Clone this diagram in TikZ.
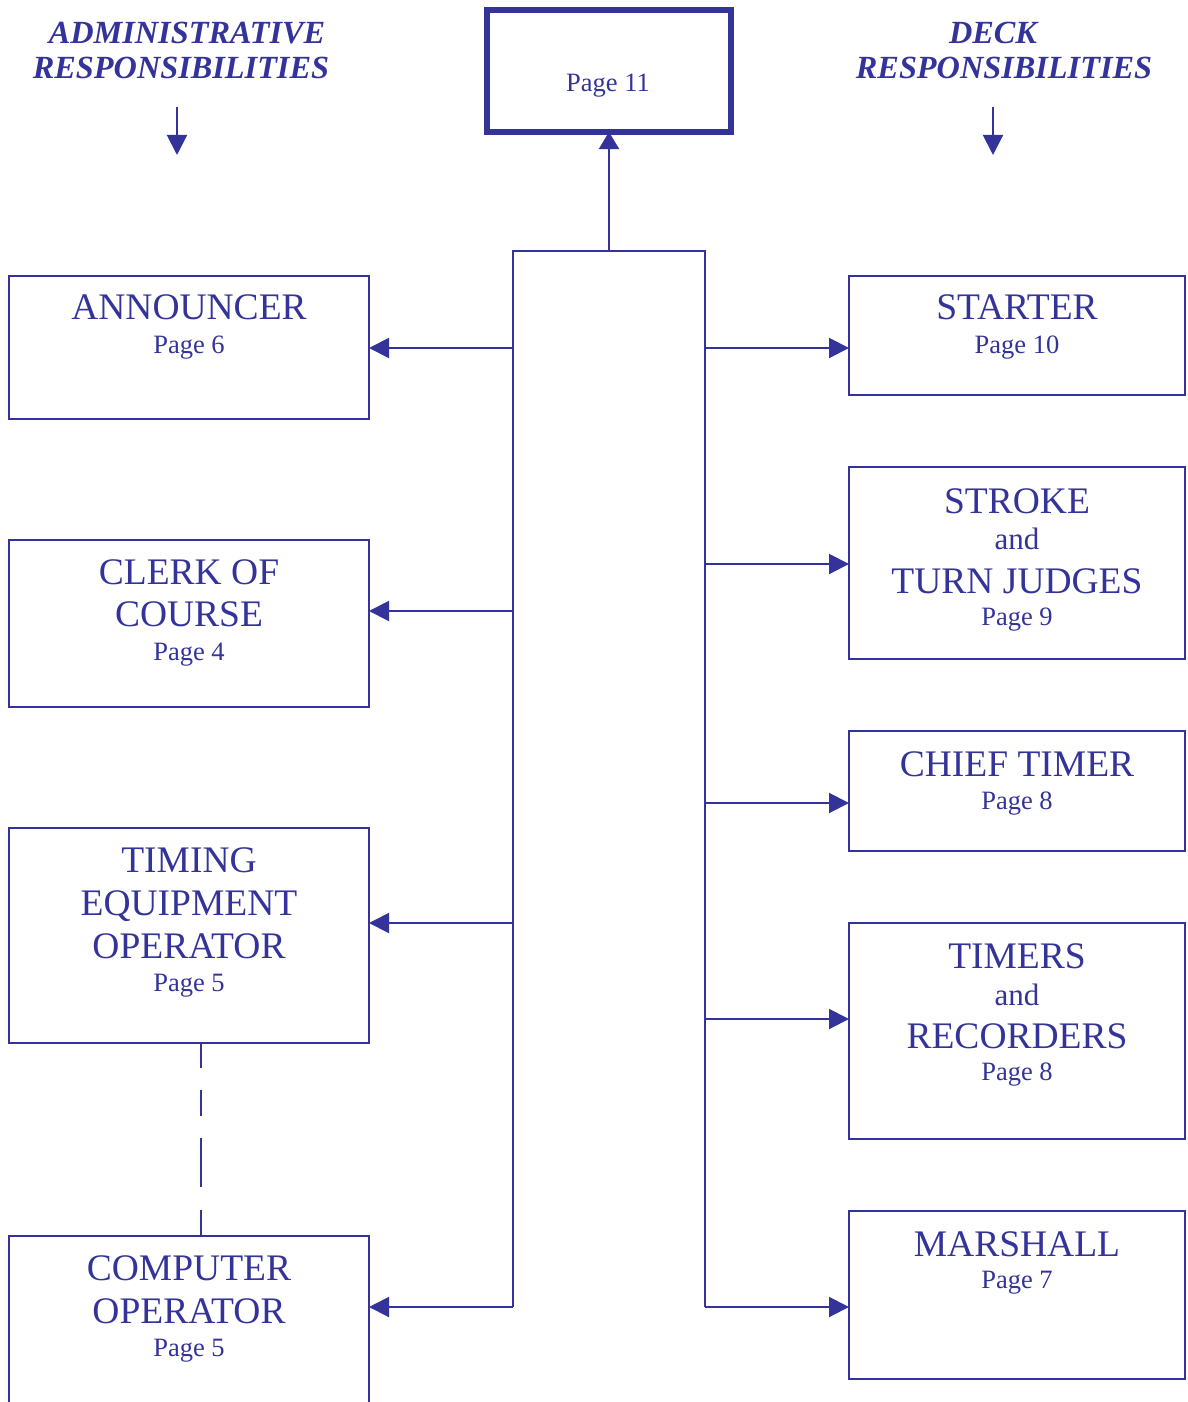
\documentclass[tikz,border=0pt]{standalone}
\usepackage{fontspec}
\setmainfont{Liberation Serif}
\usetikzlibrary{arrows.meta}
\definecolor{ink}{RGB}{51,51,153}
\tikzset{
  x=1pt,y=-1pt,
  box/.style={draw=ink,line width=2pt,rectangle,inner sep=0pt,outer sep=0pt},
  topbox/.style={draw=ink,line width=5.5pt,rectangle,inner sep=0pt,outer sep=0pt},
  big/.style={text=ink,anchor=base,inner sep=0pt,font=\fontsize{37.5}{40}\selectfont},
  mid/.style={text=ink,anchor=base,inner sep=0pt,font=\fontsize{31}{34}\selectfont},
  small/.style={text=ink,anchor=base,inner sep=0pt,font=\fontsize{26.5}{28}\selectfont},
  head/.style={text=ink,anchor=base,inner sep=0pt,font=\fontsize{32.3}{34}\selectfont\bfseries\itshape},
  conn/.style={draw=ink,line width=2pt},
  arr/.style={conn,-{Triangle[length=20pt,width=20pt]}},
}
\begin{document}
\begin{tikzpicture}
\useasboundingbox (0,0) rectangle (1187,1402);
\clip (0,0) rectangle (1187,1402);

% headers
\node[head] (h1a) at (187,44) {ADMINISTRATIVE};
\node[head] (h1b) at (181,79) {RESPONSIBILITIES};
\node[head] (h2a) at (993,44) {DECK};
\node[head] (h2b) at (1004,79) {RESPONSIBILITIES};
\coordinate (a1s) at (177,107);
\coordinate (a1e) at (177,155);
\coordinate (a2s) at (993,107);
\coordinate (a2e) at (993,155);
\draw[arr] (a1s) -- (a1e);
\draw[arr] (a2s) -- (a2e);

% top box
\node[topbox,minimum width=244,minimum height=122] (top) at (609,71) {};
\node[small] (toptxt) at (608,92) {Page 11};

% trunk
\coordinate (tl) at (513,251);
\coordinate (tr) at (705,251);
\coordinate (tm) at (609,251);
\coordinate (bl) at (513,1307);
\coordinate (br) at (705,1307);
\draw[conn] (bl) -- (tl) -- (tr) -- (br);
\draw[arr,-{Triangle[length=17pt,width=20pt]}] (tm) -- (top.south);

% left boxes
\node[box,minimum width=360,minimum height=143] (ann) at (189,347.5) {};
\node[big] at (189,319) {ANNOUNCER};
\node[small] at (189,353) {Page 6};

\node[box,minimum width=360,minimum height=167] (clerk) at (189,623.5) {};
\node[big] at (189,584) {CLERK OF};
\node[big] at (189,626) {COURSE};
\node[small] at (189,660) {Page 4};

\node[box,minimum width=360,minimum height=215] (timing) at (189,935.5) {};
\node[big] at (189,872) {TIMING};
\node[big] at (189,915) {EQUIPMENT};
\node[big] at (189,958) {OPERATOR};
\node[small] at (189,991) {Page 5};

\node[box,minimum width=360,minimum height=200] (comp) at (189,1336) {};
\node[big] at (189,1280) {COMPUTER};
\node[big] at (189,1323) {OPERATOR};
\node[small] at (189,1356) {Page 5};

\coordinate (lt1) at (513,348);
\coordinate (lt2) at (513,611);
\coordinate (lt3) at (513,923);
\draw[arr] (lt1) -- (ann.east |- lt1);
\draw[arr] (lt2) -- (clerk.east |- lt2);
\draw[arr] (lt3) -- (timing.east |- lt3);
\draw[arr] (bl) -- (comp.east |- bl);

\coordinate (ds) at (201,1043);
\coordinate (de) at (201,1236);
\draw[conn,dash pattern=on 25pt off 22pt on 26pt off 22pt on 49pt off 23pt on 26pt] (timing.south -| ds) -- (comp.north -| de);

% right boxes
\node[box,minimum width=336,minimum height=119] (start) at (1017,335.5) {};
\node[big] at (1017,319) {STARTER};
\node[small] at (1017,353) {Page 10};

\node[box,minimum width=336,minimum height=192] (stroke) at (1017,563) {};
\node[big] at (1017,513) {STROKE};
\node[mid] at (1017,549) {and};
\node[big] at (1017,593) {TURN JUDGES};
\node[small] at (1017,625) {Page 9};

\node[box,minimum width=336,minimum height=120] (chief) at (1017,791) {};
\node[big] at (1017,776) {CHIEF TIMER};
\node[small] at (1017,809) {Page 8};

\node[box,minimum width=336,minimum height=216] (timers) at (1017,1031) {};
\node[big] at (1017,968) {TIMERS};
\node[mid] at (1017,1005) {and};
\node[big] at (1017,1048) {RECORDERS};
\node[small] at (1017,1080) {Page 8};

\node[box,minimum width=336,minimum height=168] (marsh) at (1017,1295) {};
\node[big] at (1017,1256) {MARSHALL};
\node[small] at (1017,1288) {Page 7};

\coordinate (rt1) at (705,348);
\coordinate (rt2) at (705,564);
\coordinate (rt3) at (705,803);
\coordinate (rt4) at (705,1019);
\draw[arr] (rt1) -- (start.west |- rt1);
\draw[arr] (rt2) -- (stroke.west |- rt2);
\draw[arr] (rt3) -- (chief.west |- rt3);
\draw[arr] (rt4) -- (timers.west |- rt4);
\draw[arr] (br) -- (marsh.west |- br);
\end{tikzpicture}
\end{document}
